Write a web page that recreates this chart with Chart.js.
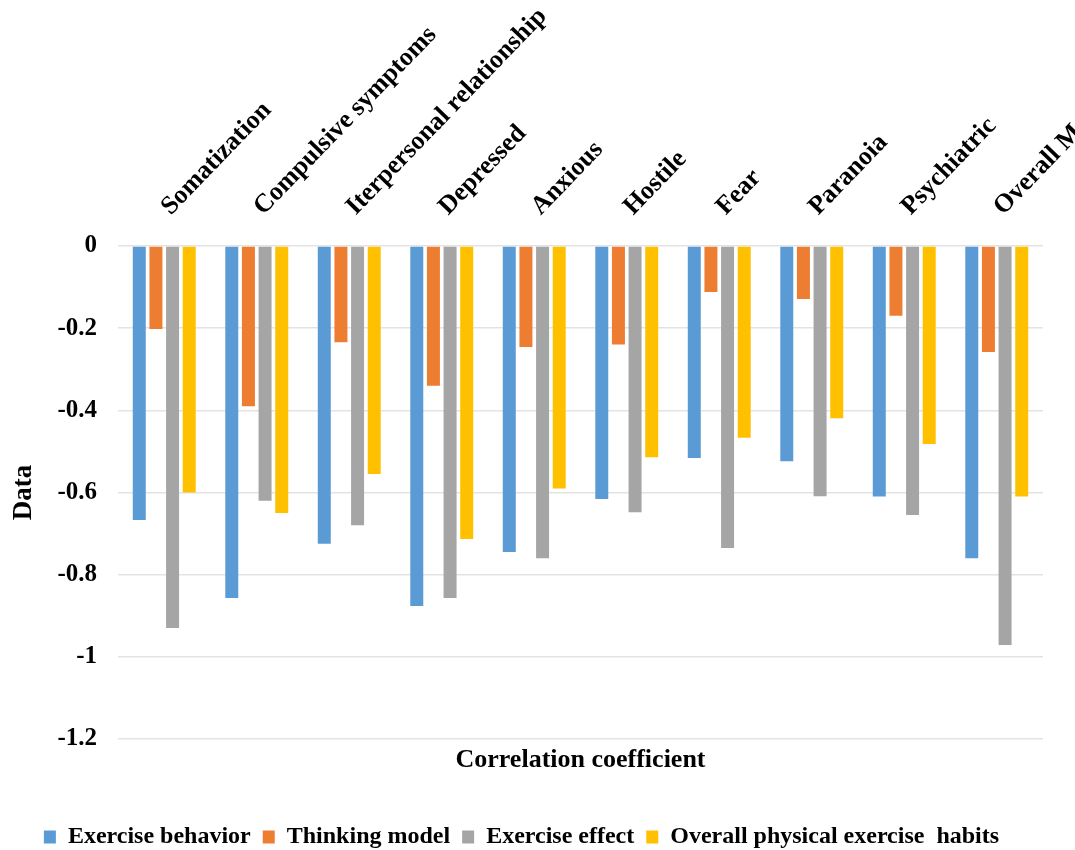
<!DOCTYPE html>
<html>
<head>
<meta charset="utf-8">
<script src="https://cdn.jsdelivr.net/npm/chart.js@4.4.1/dist/chart.umd.min.js"></script>
<style>
  html, body { margin: 0; padding: 0; background: #fff; }
  canvas { display: block; }
</style>
</head>
<body>
<canvas id="corrChart" width="1075" height="850"></canvas>
<script>
const categories = ['Somatization', 'Compulsive symptoms', 'Iterpersonal relationship', 'Depressed',
  'Anxious', 'Hostile', 'Fear', 'Paranoia', 'Psychiatric', 'Overall Mental health'];

const exerciseBehavior = [-0.667, -0.857, -0.725, -0.876, -0.745, -0.616, -0.516, -0.524, -0.61, -0.76];
const thinkingModel    = [-0.202, -0.39, -0.234, -0.34, -0.246, -0.24, -0.112, -0.129, -0.17, -0.258];
const exerciseEffect   = [-0.93, -0.62, -0.68, -0.857, -0.76, -0.648, -0.735, -0.609, -0.655, -0.971];
const overallHabits    = [-0.60, -0.65, -0.555, -0.713, -0.59, -0.514, -0.467, -0.419, -0.482, -0.61];

const yTicks = [0, -0.2, -0.4, -0.6, -0.8, -1, -1.2];

const font = 'Liberation Serif, Times New Roman, serif';

function series(label, data, color) {
  return {
    label: label,
    data: data,
    backgroundColor: color,
    borderWidth: 0,
    categoryPercentage: 0.72,
    barPercentage: 0.78
  };
}

const ctx = document.getElementById('corrChart').getContext('2d');
new Chart(ctx, {
  type: 'bar',
  data: {
    labels: categories,
    datasets: [
      series('Exercise behavior', exerciseBehavior, '#5b9bd5'),
      series('Thinking model', thinkingModel, '#ed7d31'),
      series('Exercise effect', exerciseEffect, '#a5a5a5'),
      series('Overall physical exercise  habits', overallHabits, '#ffc000')
    ]
  },
  options: {
    responsive: false,
    animation: false,
    layout: { padding: { left: 0, right: 32, top: 0, bottom: -9 } },
    plugins: {
      tooltip: { enabled: false },
      legend: {
        position: 'bottom',
        align: 'center',
        labels: {
          boxWidth: 12,
          boxHeight: 13,
          padding: 12,
          color: '#000',
          font: { family: font, size: 24, weight: 'bold' }
        }
      }
    },
    scales: {
      x: {
        position: 'top',
        grid: { display: false, drawTicks: false },
        border: { display: false },
        ticks: {
          color: '#000',
          minRotation: 46,
          maxRotation: 46,
          autoSkip: false,
          padding: 24,
          labelOffset: 24,
          font: { family: font, size: 26, weight: 'bold' }
        },
        afterFit: function (scale) {
          scale.height = 246;
          scale.paddingLeft = 0;
          scale.paddingRight = 0;
        }
      },
      x2: {
        position: 'bottom',
        labels: categories,
        grid: { display: false, drawTicks: false },
        border: { display: false },
        ticks: { display: false },
        title: {
          display: true,
          text: 'Correlation coefficient',
          color: '#000',
          padding: { top: 37, bottom: 37 },
          font: { family: font, size: 26, weight: 'bold' }
        },
        afterFit: function (scale) {
          scale.height = 74;
        }
      },
      y: {
        min: -1.2,
        max: 0,
        afterBuildTicks: function (scale) {
          scale.ticks = yTicks.map(v => ({ value: v }));
        },
        grid: { color: '#e3e3e3', lineWidth: 1.5, drawTicks: false },
        border: { display: false },
        ticks: {
          color: '#000',
          padding: 21,
          font: { family: font, size: 25, weight: 'bold' },
          callback: v => String(Math.round(v * 10) / 10)
        },
        title: {
          display: true,
          text: 'Data',
          color: '#000',
          padding: { top: 8, bottom: 0 },
          font: { family: font, size: 27, weight: 'bold' }
        },
        afterFit: function (scale) {
          scale.width = 118;
        }
      }
    }
  }
});
</script>
</body>
</html>
